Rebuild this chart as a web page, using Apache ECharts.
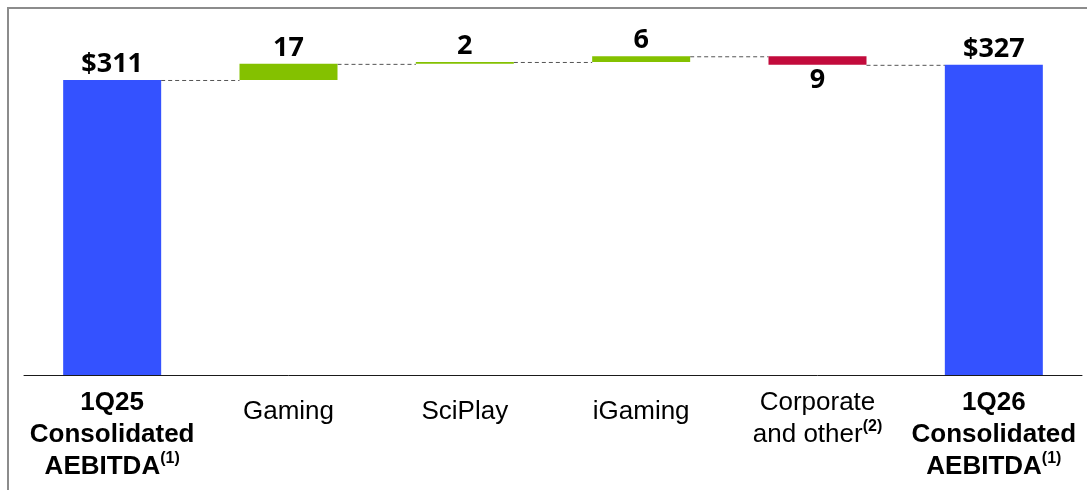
<!DOCTYPE html>
<html>
<head>
<meta charset="utf-8">
<script src="https://cdn.jsdelivr.net/npm/echarts@6/dist/echarts.min.js"></script>
<style>
html,body{margin:0;padding:0;background:#fff;}
#c{width:1087px;height:490px;}
</style>
</head>
<body>
<div id="c"></div>
<script>
// ---- data ----
const categories = ['1Q25 Consolidated AEBITDA', 'Gaming', 'SciPlay', 'iGaming', 'Corporate and other', '1Q26 Consolidated AEBITDA'];
const labelLines = [['1Q25', 'Consolidated', 'AEBITDA'], ['Gaming'], ['SciPlay'], ['iGaming'], ['Corporate', 'and other'], ['1Q26', 'Consolidated', 'AEBITDA']];
const footnotes = ['(1)', '', '', '', '(2)', '(1)'];
const isTotal = [true, false, false, false, false, true];
const startTotal = 311;
const deltas = [17, 2, 6, -9];
const endTotal = 327;

// ---- derived waterfall values ----
const baseVals = [];
const barVals = [];
const levels = []; // level after each bar (for connectors)
let run = startTotal;
baseVals.push(0); barVals.push(startTotal); levels.push(run);
deltas.forEach(d => {
  const next = run + d;
  baseVals.push(Math.min(run, next));
  barVals.push(Math.abs(d));
  run = next;
  levels.push(run);
});
baseVals.push(0); barVals.push(endTotal);

const BLUE = '#3452FF', GREEN = '#84C100', RED = '#C20B3C';
const BAR_W = 98;

const barData = barVals.map((v, i) => {
  let color, text, pos = 'top';
  if (i === 0 || i === barVals.length - 1) { color = BLUE; text = '$' + v; }
  else {
    const d = deltas[i - 1];
    color = d >= 0 ? GREEN : RED;
    text = String(Math.abs(d));
    if (d < 0) pos = 'bottom';
  }
  return { value: v, itemStyle: { color: color }, label: { show: true, position: pos, formatter: text } };
});

const connectorData = levels.map((lv, i) => [i, lv]).slice(0, barVals.length - 1);

const chart = echarts.init(document.getElementById('c'));
chart.setOption({
  animation: false,
  grid: { left: 24, right: 5, top: 43, bottom: 115 },
  xAxis: {
    type: 'category',
    data: categories,
    axisLine: { lineStyle: { color: '#1a1a1a', width: 1 } },
    axisTick: { show: false },
    axisLabel: {
      interval: 0,
      margin: 12,
      formatter: function (value, index) {
        const lines = labelLines[index];
        const st = isTotal[index] ? 'b' : (lines.length === 1 ? 'n1' : 'n');
        const sup = isTotal[index] ? 'sb' : 'sn';
        return lines.map((l, k) => {
          let s = '{' + st + '|' + l + '}';
          if (k === lines.length - 1 && footnotes[index]) s += '{' + sup + '|' + footnotes[index] + '}';
          return s;
        }).join('\n');
      },
      rich: {
        b: { fontFamily: 'Liberation Sans', fontSize: 26, fontWeight: 'bold', color: '#000', lineHeight: 32 },
        n: { fontFamily: 'Liberation Sans', fontSize: 26, color: '#000', lineHeight: 32 },
        n1: { fontFamily: 'Liberation Sans', fontSize: 26, color: '#000', lineHeight: 32, padding: [18, 0, 0, 0] },
        sb: { fontFamily: 'Liberation Sans', fontSize: 16, fontWeight: 'bold', color: '#000', lineHeight: 22, verticalAlign: 'top' },
        sn: { fontFamily: 'Liberation Sans', fontSize: 16, fontWeight: 'bold', color: '#000', lineHeight: 22, verticalAlign: 'top' }
      }
    }
  },
  yAxis: { type: 'value', min: 0, max: 350, show: false, splitLine: { show: false } },
  series: [
    {
      type: 'bar', stack: 'wf', barWidth: BAR_W, silent: true,
      itemStyle: { color: 'transparent' },
      data: baseVals
    },
    {
      type: 'bar', stack: 'wf', barWidth: BAR_W,
      label: { show: true, distance: 2, fontFamily: 'Open Sans', fontWeight: 'bold', fontSize: 27, color: '#000' },
      data: barData
    },
    {
      type: 'custom',
      silent: true,
      z: 1,
      renderItem: function (params, api) {
        const i = api.value(0);
        const lv = api.value(1);
        const p = api.coord([i, lv]);
        const band = api.size([1, 0])[0];
        return {
          type: 'line',
          shape: { x1: p[0] + BAR_W / 2, y1: p[1] + 0.5, x2: p[0] + band - BAR_W / 2, y2: p[1] + 0.5 },
          style: { stroke: '#555', lineWidth: 1, lineDash: [4, 3] }
        };
      },
      data: connectorData
    }
  ],
  graphic: [
    { type: 'rect', shape: { x: 7, y: 7, width: 1080, height: 2 }, style: { fill: '#8c8c8c' }, silent: true },
    { type: 'rect', shape: { x: 7, y: 7, width: 2, height: 483 }, style: { fill: '#8c8c8c' }, silent: true }
  ]
});
</script>
</body>
</html>
